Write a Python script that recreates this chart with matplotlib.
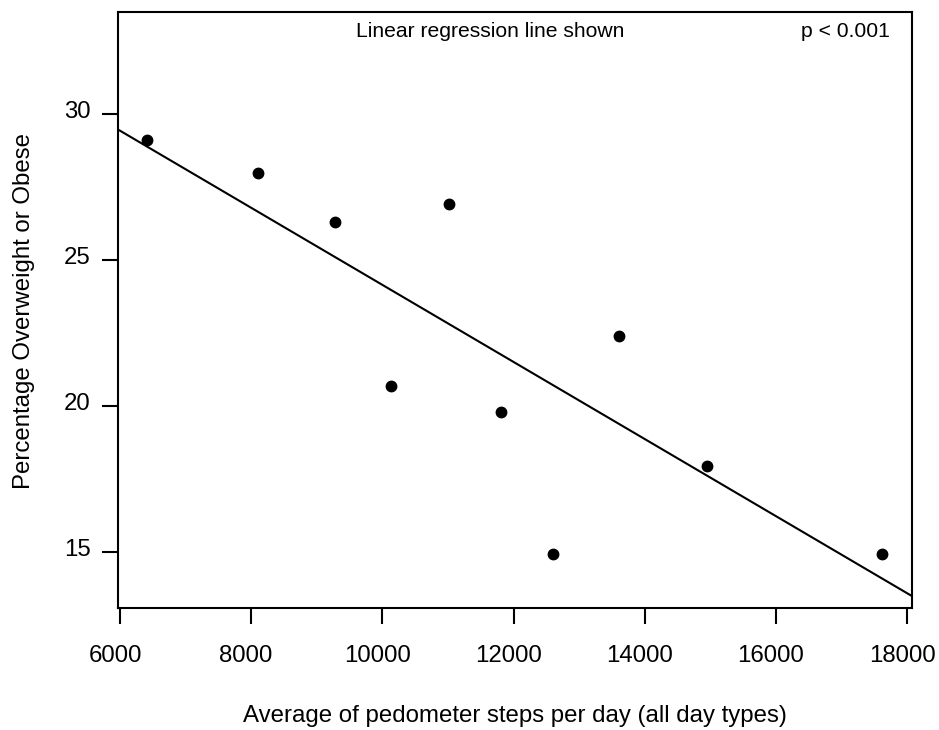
import numpy as np
import matplotlib
matplotlib.use("Agg")
import matplotlib.pyplot as plt
import matplotlib.transforms as mtransforms

plt.rcParams['font.family'] = ['Liberation Sans', 'DejaVu Sans']

# Data
steps = [6412, 8104, 9278, 11017, 10132, 11810, 12603, 13609, 14951, 17620]
pct = [29.08, 27.98, 26.28, 26.89, 20.67, 19.78, 14.93, 22.38, 17.94, 14.93]
xticks = [6000, 8000, 10000, 12000, 14000, 16000, 18000]
yticks = [15, 20, 25, 30]
xlabel = "Average of pedometer steps per day (all day types)"
ylabel = "Percentage Overweight or Obese"
note_left = "Linear regression line shown"
note_right = "p < 0.001"

fig = plt.figure(figsize=(9.39, 7.30), dpi=100)
ax = fig.add_axes([118/939, (730-608)/730, (912-118)/939, (608-12)/730])

xlim = (5969.5, 18076)
ylim = (13.07, 33.48)
ax.set_xlim(*xlim)
ax.set_ylim(*ylim)

ax.plot(steps, pct, 'o', color='black', markersize=7.5, zorder=3)

slope, intercept = np.polyfit(steps, pct, 1)
xs = np.array(xlim)
ax.plot(xs, slope * xs + intercept, color='black', linewidth=1.5, zorder=2)

for s in ax.spines.values():
    s.set_linewidth(1.5)
    s.set_color('black')

ax.set_xticks(xticks)
ax.set_xticklabels([str(t) for t in xticks])
ax.set_yticks(yticks)
ax.set_yticklabels([str(t) for t in yticks])
ax.tick_params(axis='both', direction='out', length=11.5, width=1.5,
               labelsize=17.3, colors='black')
ax.tick_params(axis='x', pad=15)
ax.tick_params(axis='y', pad=8)

offx = mtransforms.ScaledTranslation(-5/100, 0, fig.dpi_scale_trans)
for lab in ax.get_xticklabels():
    lab.set_transform(lab.get_transform() + offx)
offy = mtransforms.ScaledTranslation(0, 4/100, fig.dpi_scale_trans)
for lab in ax.get_yticklabels():
    lab.set_transform(lab.get_transform() + offy)

ax.text(0.469, 0.967, note_left, transform=ax.transAxes, ha='center', va='center',
        fontsize=15.2, color='black')
ax.text(0.972, 0.967, note_right, transform=ax.transAxes, ha='right', va='center',
        fontsize=15.2, color='black')

fig.text(515/939, (730-722)/730, xlabel, ha='center', va='baseline', fontsize=17.3)
fig.text(24/939, (730-311)/730, ylabel, ha='center', va='center', rotation=90,
         fontsize=17.3)

fig.savefig("out.png", dpi=100, facecolor='white')
